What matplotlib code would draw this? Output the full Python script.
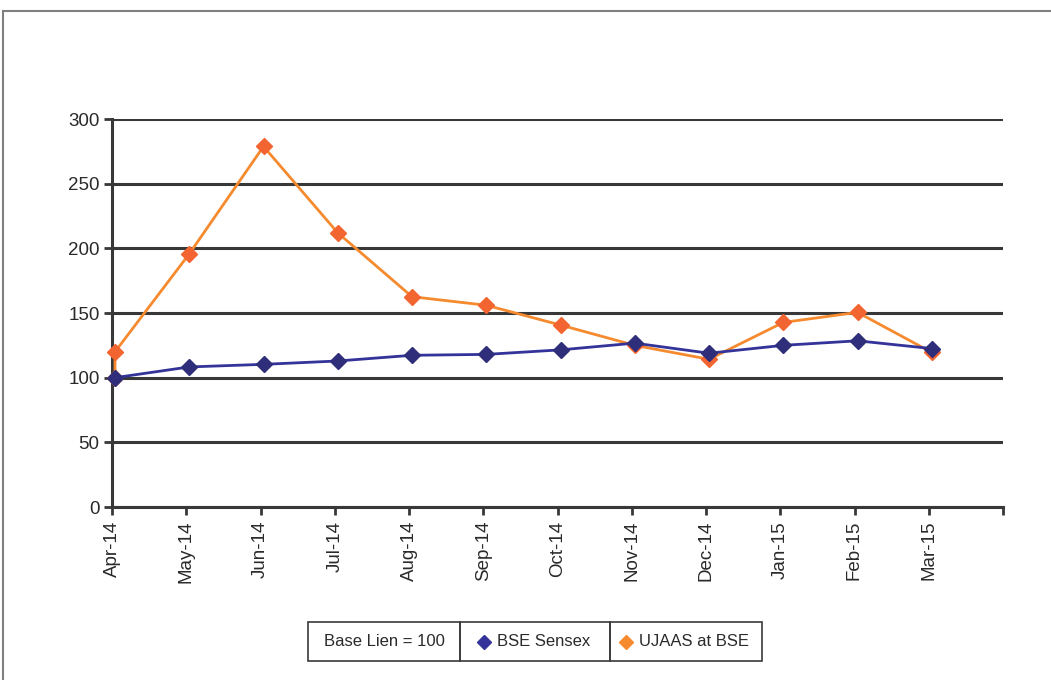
import matplotlib
matplotlib.use("Agg")
import matplotlib.pyplot as plt
from matplotlib.lines import Line2D
from matplotlib.patches import Rectangle
import matplotlib.transforms as mtransforms
import numpy as np

plt.rcParams['font.family'] = ['Liberation Sans Narrow', 'Liberation Sans', 'DejaVu Sans']

months = ["Apr-14", "May-14", "Jun-14", "Jul-14", "Aug-14", "Sep-14",
          "Oct-14", "Nov-14", "Dec-14", "Jan-15", "Feb-15", "Mar-15"]
bse_sensex = [100, 108.3, 110.3, 112.9, 117.3, 118, 121.5, 126.7, 118.9, 125, 128.5, 122.5]
# UJAAS series starts at the base value 100 and then its Apr-14 close of 120
ujaas_pos = [0, 0, 1, 2, 3, 4, 5, 6, 7, 8, 9, 10, 11]
ujaas = [100, 120, 195.7, 278.8, 212, 162.6, 156, 140.7, 125, 114.2, 142.7, 150.5, 119.5]
legend_labels = ["Base Lien = 100", "BSE Sensex", "UJAAS at BSE"]

blue_line = "#333399"
blue_mark = "#2E2E7A"
orange_line = "#F58A2E"
orange_mark = "#F26430"
grid_c = "#383838"
text_c = "#2A2A2A"

fig = plt.figure(figsize=(10.51, 6.8), dpi=100)
ax = fig.add_axes([112/1051, 1-507/680, (1003-112)/1051, (507-119)/680])

# points sit a few pixels right of the category tick, as in the source chart
shift = mtransforms.offset_copy(ax.transData, fig=fig, x=3, y=0, units='dots')

ax.plot(ujaas_pos, ujaas, color=orange_line, lw=2.0, marker='D', ms=8.5,
        mfc=orange_mark, mec=orange_mark, clip_on=False, zorder=3, transform=shift)
ax.plot(np.arange(len(months)), bse_sensex, color=blue_line, lw=2.0, marker='D', ms=8.5,
        mfc=blue_mark, mec=blue_mark, clip_on=False, zorder=4, transform=shift)

ax.set_ylim(0, 300)
ax.set_xlim(0, len(months))
ax.set_yticks(np.arange(0, 301, 50))
ax.set_xticks(np.arange(len(months) + 1))
ax.set_xticklabels(months + [""], rotation=90)
ax.yaxis.grid(True, color=grid_c, lw=2.2)
ax.set_axisbelow(True)
for s in ["top", "right"]:
    ax.spines[s].set_visible(False)
for s in ["left", "bottom"]:
    ax.spines[s].set_color(grid_c)
    ax.spines[s].set_linewidth(2.2)
ax.tick_params(axis='both', colors=grid_c, width=2, length=6, labelsize=13.5,
               labelcolor=text_c)
ax.tick_params(axis='x', pad=4)
ax.tick_params(axis='y', pad=3)

# outer frame
fig.add_artist(Line2D([3/1051, 1], [1-11/680, 1-11/680], transform=fig.transFigure,
                      color="#7F7F7F", lw=1.5))
fig.add_artist(Line2D([3/1051, 3/1051], [0, 1-11/680], transform=fig.transFigure,
                      color="#7F7F7F", lw=1.5))

# legend box with three cells
W, H = 1051, 680
cells = [(308, 460), (460, 610), (610, 762)]
top, bot = 622, 661
for (x0, x1) in cells:
    fig.add_artist(Rectangle((x0/W, 1-bot/H), (x1-x0)/W, (bot-top)/H,
                             transform=fig.transFigure, fill=False,
                             ec="#3A3A3A", lw=1.2))
ymid = 1 - (top + bot) / 2 / H
fig.text((cells[0][0] + cells[0][1]) / 2 / W, ymid, legend_labels[0], ha='center',
         va='center', fontsize=12, color=text_c)
fig.add_artist(Line2D([484/W], [ymid], transform=fig.transFigure, marker='D', ms=7,
                      mfc=blue_line, mec=blue_line, ls='none'))
fig.text(497/W, ymid, legend_labels[1], ha='left', va='center', fontsize=12, color=text_c)
fig.add_artist(Line2D([626/W], [ymid], transform=fig.transFigure, marker='D', ms=7,
                      mfc=orange_line, mec=orange_line, ls='none'))
fig.text(639/W, ymid, legend_labels[2], ha='left', va='center', fontsize=12, color=text_c)

fig.savefig("out.png", dpi=100)
